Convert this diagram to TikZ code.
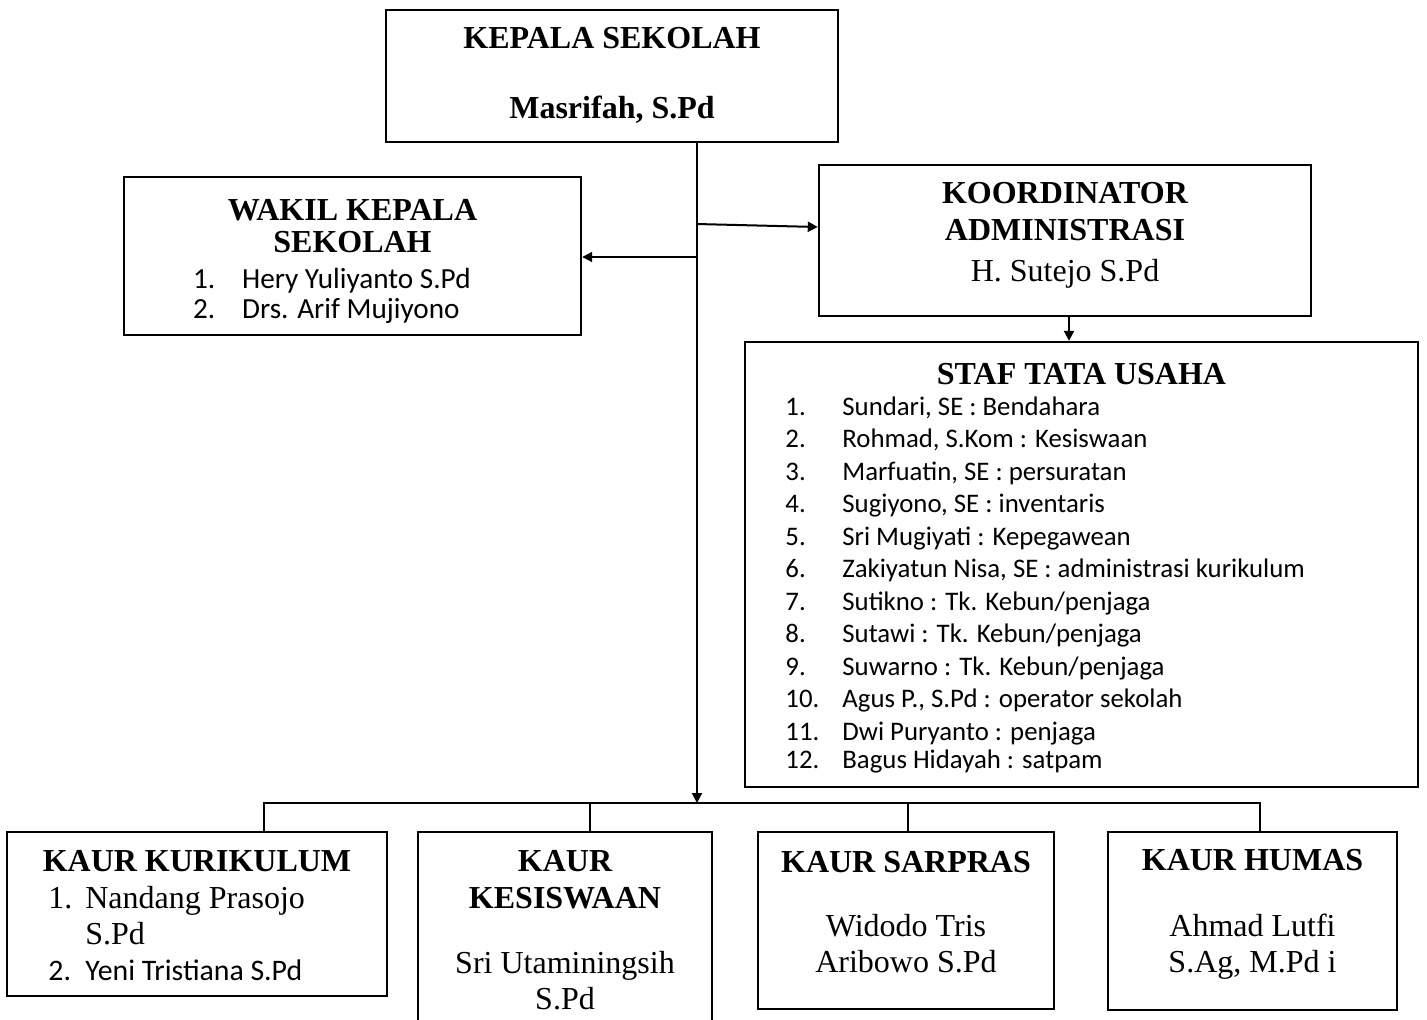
\documentclass[tikz,border=0pt]{standalone}
\usepackage{fontspec}
\setmainfont{Liberation Serif}
\newfontfamily\calibri{Carlito}
\usetikzlibrary{arrows.meta, calc}
\newcommand{\rowsc}[1]{\begin{tabular}[t]{@{}c@{}}#1\end{tabular}}
\tikzset{
  orgbox/.style={rectangle, draw=black, line width=1.2pt, inner sep=0pt},
  headtxt/.style={anchor=base, inner sep=0pt, font=\fontsize{16}{18.5}\selectfont\bfseries},
  nametxt/.style={anchor=base, inner sep=0pt, font=\fontsize{16}{18}\selectfont},
  listtxt/.style={anchor=base west, inner sep=0pt},
}

\begin{document}
\begin{tikzpicture}[x=0.5pt, y=-0.5pt,
          arr/.style={-{Triangle[length=5pt,width=5pt]}, line width=1pt},
          conn/.style={line width=1pt}
        ]
          \useasboundingbox (0,0) rectangle (1427,1019);
          \clip (0,0) rectangle (1427,1019);

          % boxes
          \node[orgbox, minimum width=226pt, minimum height=66pt] (kepala) at (612,76) {};
          \node[orgbox, minimum width=228.5pt, minimum height=79pt] (wakil) at (352.5,256) {};
          \node[orgbox, minimum width=246pt, minimum height=75.5pt] (koor) at (1065,240.5) {};
          \node[orgbox, minimum width=336.5pt, minimum height=222.5pt] (staf) at (1081.5,564.5) {};
          \node[orgbox, minimum width=190pt, minimum height=82pt] (kur) at (197,914) {};
          \node[orgbox, minimum width=147pt, minimum height=104pt] (kes) at (565,936) {};
          \node[orgbox, minimum width=148pt, minimum height=88.5pt] (sar) at (906,920.5) {};
          \node[orgbox, minimum width=144.5pt, minimum height=89pt] (hum) at (1252.5,921) {};

          % texts
          \node[headtxt] (kepalaH) at (612,48) {KEPALA SEKOLAH};
          \node[headtxt] (kepalaN) at (612,118) {Masrifah, S.Pd};

          \node[headtxt] (wakilH) at (352.5,220) {\rowsc{WAKIL KEPALA\\[-2.5pt]SEKOLAH}};
          \node[listtxt, font=\calibri\fontsize{14.6}{15}\selectfont] (wakilL) at (192.7,288)
            {\begin{tabular}[t]{@{}p{24.5pt}@{}l@{}}
              1. & Hery Yuliyanto S.Pd\\
              2. & Drs. Arif Mujiyono
            \end{tabular}};

          \node[headtxt] (koorH) at (1065,203) {\rowsc{KOORDINATOR\\ADMINISTRASI}};
          \node[nametxt] (koorN) at (1065,281) {H. Sutejo S.Pd};

          \node[headtxt] (stafH) at (1081.5,384) {STAF TATA USAHA};
          \node[listtxt, font=\calibri\fontsize{13.4}{16.25}\selectfont] (stafL) at (785,415)
            {\begin{tabular}[t]{@{}p{28.5pt}@{}l@{}}
              1. & Sundari, SE : Bendahara\\
              2. & Rohmad, S.Kom : Kesiswaan\\
              3. & Marfuatin, SE : persuratan\\
              4. & Sugiyono, SE : inventaris\\
              5. & Sri Mugiyati : Kepegawean\\
              6. & Zakiyatun Nisa, SE : administrasi kurikulum\\
              7. & Sutikno : Tk. Kebun/penjaga\\
              8. & Sutawi : Tk. Kebun/penjaga\\
              9. & Suwarno : Tk. Kebun/penjaga\\
              10. & Agus P., S.Pd : operator sekolah\\
              11. & Dwi Puryanto : penjaga\\[-2pt]
              12. & Bagus Hidayah : satpam
            \end{tabular}};

          \node[headtxt] (kurH) at (197,871) {KAUR KURIKULUM};
          \node[listtxt, font=\fontsize{16}{18}\selectfont] (kurL) at (48,908)
            {\begin{tabular}[t]{@{}p{18.5pt}@{}l@{}}
              1. & Nandang Prasojo\\
                 & S.Pd\\
              {\calibri\fontsize{14.9}{18}\selectfont 2.} & {\calibri\fontsize{14.9}{18}\selectfont Yeni Tristiana S.Pd}
            \end{tabular}};

          \node[headtxt] (kesH) at (565,871) {\rowsc{KAUR\\KESISWAAN}};
          \node[nametxt] (kesN) at (565,973) {\rowsc{Sri Utaminingsih\\S.Pd}};

          \node[headtxt] (sarH) at (906,872) {KAUR SARPRAS};
          \node[nametxt] (sarN) at (906,936) {\rowsc{Widodo Tris\\Aribowo S.Pd}};

          \node[headtxt] (humH) at (1252.5,870) {KAUR HUMAS};
          \node[nametxt] (humN) at (1252.5,936) {\rowsc{Ahmad Lutfi\\S.Ag, M.Pd i}};

          % connectors
          \coordinate (trunk) at ([xshift=42.5pt]kepala.south);
          \coordinate (bus) at (697,803);
          \coordinate (jR) at (697,224);
          \coordinate (jL) at (697,257);
          \coordinate (dKur) at ([xshift=33.5pt]kur.north);
          \coordinate (dKes) at ([xshift=12.5pt]kes.north);
          \coordinate (dSar) at ([xshift=1pt]sar.north);
          \coordinate (dHum) at ([xshift=3.75pt]hum.north);

          \draw[arr] (trunk) -- (bus);
          \draw[arr] (jL) -- (jL -| wakil.east);
          \draw[arr] (jR) -- ([yshift=6.75pt]koor.west);
          \draw[arr] ([xshift=2pt]koor.south) coordinate (kd) -- (kd |- staf.north);
          \draw[conn] (dKur) -- (dKur |- bus) -- (dHum |- bus) -- (dHum);
          \draw[conn] (dKes |- bus) -- (dKes);
          \draw[conn] (dSar |- bus) -- (dSar);
        \end{tikzpicture}
\end{document}
